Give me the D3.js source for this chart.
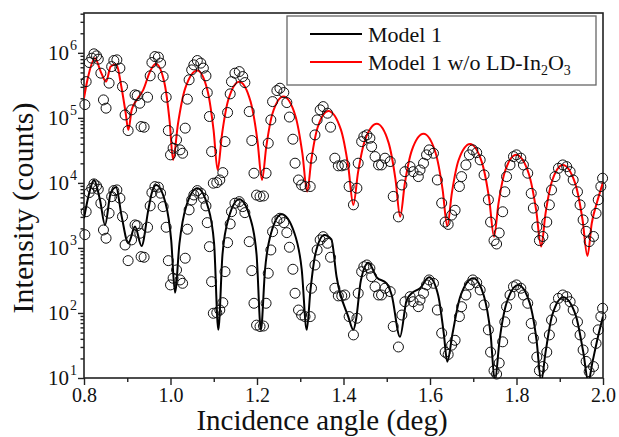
<!DOCTYPE html>
<html>
<head>
<meta charset="utf-8">
<script src="https://cdn.jsdelivr.net/npm/d3@7"></script>
<style>
  body { margin: 0; background: #fff; }
  svg text { font-family: "Liberation Serif", "DejaVu Serif", "Times New Roman", Times, serif !important; }
</style>
</head>
<body>
<svg id="chart" width="619" height="437"></svg>
<script>
// measured reflectivity (open circles), incidence angle in deg
const dataAngles = [
  0.802, 0.805, 0.812, 0.818, 0.823, 0.829, 0.833, 0.839, 0.845, 0.851,
  0.858, 0.864, 0.869, 0.876, 0.883, 0.889, 0.895, 0.902, 0.910, 0.918,
  0.923, 0.929, 0.932, 0.939, 0.947, 0.953, 0.957, 0.964, 0.972, 0.977,
  0.983, 0.990, 0.995, 1.000, 1.006, 1.014, 1.022, 1.028, 1.034, 1.039,
  1.043, 1.049, 1.054, 1.062, 1.070, 1.076, 1.082, 1.085, 1.090, 1.095,
  1.099, 1.107, 1.114, 1.121, 1.126, 1.132, 1.138, 1.141, 1.149, 1.159,
  1.167, 1.172, 1.182, 1.188, 1.193, 1.199, 1.207, 1.215, 1.221, 1.226,
  1.232, 1.236, 1.246, 1.253, 1.262, 1.269, 1.275, 1.283, 1.288, 1.296,
  1.303, 1.311, 1.323, 1.326, 1.334, 1.339, 1.346, 1.353, 1.363, 1.370,
  1.380, 1.388, 1.396, 1.403, 1.413, 1.423, 1.431, 1.434, 1.442, 1.447,
  1.454, 1.461, 1.465, 1.473, 1.481, 1.488, 1.496, 1.508, 1.515, 1.527,
  1.535, 1.542, 1.554, 1.561, 1.573, 1.577, 1.585, 1.592, 1.598, 1.608,
  1.617, 1.627, 1.635, 1.642, 1.650, 1.658, 1.668, 1.673, 1.683, 1.691,
  1.699, 1.708, 1.716, 1.725, 1.735, 1.740, 1.748, 1.754, 1.760, 1.768,
  1.773, 1.777, 1.785, 1.793, 1.800, 1.810, 1.816, 1.826, 1.834, 1.839,
  1.847, 1.853, 1.861, 1.870, 1.876, 1.881, 1.889, 1.897, 1.907, 1.916,
  1.924, 1.931, 1.941, 1.947, 1.954, 1.961, 1.968, 1.978, 1.984, 1.989,
  1.995, 1.999
];

// lower copy of the measurement (fitted with Model 1)
const dataLow = [
  1600, 3610, 7100, 8280, 9660, 8990, 8000, 4870, 1890, 1410,
  3420, 6150, 7620, 7800, 5820, 3030, 1110, 638, 1330, 2260,
  2200, 1680, 735, 719, 2080, 4430, 7100, 8770, 8590, 6950,
  4320, 2080, 638, 270, 342, 459, 322, 286, 695, 1940,
  3850, 5470, 6530, 7620, 6950, 5820, 4430, 2450, 1047, 303,
  99, 101, 111, 144, 432, 1207, 2340, 3610, 4870, 5150,
  4320, 3490, 1250, 448, 141, 65, 62, 63, 141, 408,
  931, 1780, 2630, 2860, 2450, 1720, 1025, 470, 201, 111,
  93, 88, 88, 240, 547, 931, 1330, 1490, 1180, 719,
  240, 183, 183, 189, 88, 46, 83, 201, 432, 515,
  547, 487, 362, 254, 189, 189, 240, 213, 62, 30,
  93, 149, 178, 149, 125, 158, 201, 270, 322, 286,
  111, 49, 25, 23, 32, 38, 88, 125, 189, 270,
  322, 292, 226, 133, 55, 25, 13, 11.5, 17, 36,
  73, 125, 189, 254, 270, 240, 189, 141, 69, 41,
  21, 13, 15, 25, 46, 78, 125, 168, 189, 178,
  149, 111, 73, 46, 27, 18, 12.5, 15, 34, 55,
  88, 118
];

// upper copy of the measurement (shown with the red curve)
const dataHigh = [
  1.6e5, 3.61e5, 7.1e5, 8.28e5, 9.66e5, 8.99e5, 8.0e5, 4.87e5, 1.89e5, 1.41e5,
  3.42e5, 6.15e5, 7.62e5, 7.8e5, 5.82e5, 3.03e5, 1.11e5, 6.38e4, 1.33e5, 2.26e5,
  2.2e5, 1.68e5, 7.35e4, 7.19e4, 2.08e5, 4.43e5, 7.1e5, 8.77e5, 8.59e5, 6.95e5,
  4.32e5, 2.08e5, 6.38e4, 2.7e4, 3.42e4, 4.59e4, 3.22e4, 2.86e4, 6.95e4, 1.94e5,
  3.85e5, 5.47e5, 6.53e5, 7.62e5, 6.95e5, 5.82e5, 4.43e5, 2.45e5, 1.05e5, 3.03e4,
  9.9e3, 1.01e4, 1.11e4, 1.44e4, 4.32e4, 1.21e5, 2.34e5, 3.61e5, 4.87e5, 5.15e5,
  4.32e5, 3.49e5, 1.25e5, 4.48e4, 1.41e4, 6.5e3, 6.2e3, 6.3e3, 1.41e4, 4.08e4,
  9.31e4, 1.78e5, 2.63e5, 2.86e5, 2.45e5, 1.72e5, 1.03e5, 4.7e4, 2.01e4, 1.11e4,
  9.3e3, 8.8e3, 8.8e3, 2.4e4, 5.47e4, 9.31e4, 1.33e5, 1.49e5, 1.18e5, 7.19e4,
  2.4e4, 1.83e4, 1.83e4, 1.89e4, 8.8e3, 4.6e3, 8.3e3, 2.01e4, 4.32e4, 5.15e4,
  5.47e4, 4.87e4, 3.62e4, 2.54e4, 1.89e4, 1.89e4, 2.4e4, 2.13e4, 6.2e3, 3.0e3,
  9.3e3, 1.49e4, 1.78e4, 1.49e4, 1.25e4, 1.58e4, 2.01e4, 2.7e4, 3.22e4, 2.86e4,
  1.11e4, 4.9e3, 2.5e3, 2.3e3, 3.2e3, 3.8e3, 8.8e3, 1.25e4, 1.89e4, 2.7e4,
  3.22e4, 2.92e4, 2.26e4, 1.33e4, 5.5e3, 2.5e3, 1.3e3, 1.15e3, 1.7e3, 3.6e3,
  7.3e3, 1.25e4, 1.89e4, 2.54e4, 2.7e4, 2.4e4, 1.89e4, 1.41e4, 6.9e3, 4.1e3,
  2.1e3, 1.3e3, 1.5e3, 2.5e3, 4.6e3, 7.8e3, 1.25e4, 1.68e4, 1.89e4, 1.78e4,
  1.49e4, 1.11e4, 7.3e3, 4.6e3, 2.7e3, 1.8e3, 1.25e3, 1.5e3, 3.4e3, 5.5e3,
  8.8e3, 1.18e4
];

// Model 1 (black line)
const model1Angles = [
  0.800, 0.810, 0.823, 0.837, 0.8486, 0.8617, 0.874, 0.8872, 0.9025, 0.918,
  0.933, 0.9487, 0.9565, 0.9665, 0.9885, 1.0016, 1.0104, 1.0207, 1.0362, 1.062,
  1.0863, 1.1008, 1.1105, 1.1202, 1.1348, 1.159, 1.184, 1.199, 1.209, 1.2186,
  1.233, 1.257, 1.286, 1.3034, 1.315, 1.3236, 1.3354, 1.3557, 1.372, 1.384,
  1.411, 1.4227, 1.4296, 1.440, 1.4574, 1.4767, 1.4996, 1.5114, 1.5306, 1.546,
  1.5577, 1.577, 1.598, 1.619, 1.6316, 1.640, 1.652, 1.670, 1.700, 1.725,
  1.740, 1.750, 1.7608, 1.777, 1.804, 1.8305, 1.8464, 1.857, 1.8672, 1.8825,
  1.908, 1.937, 1.9544, 1.966, 1.976, 1.988, 2.000
];
const model1Counts = [
  2860, 6150, 11100, 5470, 2260, 6950, 8590, 3030, 1180, 2130,
  1070, 3850, 6950, 9310, 4890, 1315, 205, 1170, 4345, 8280,
  4345, 1170, 55, 792, 2940, 5610, 2940, 792, 55, 466,
  1730, 3300, 1730, 466, 55, 224, 832, 1585, 1350, 361,
  88, 55, 84, 312, 594, 354, 286, 189, 43, 158,
  201, 240, 354, 186, 50, 17.8, 48, 179, 342, 179,
  48, 8.9, 38, 142, 270, 142, 38, 8.9, 25, 92,
  175, 92, 25, 8.9, 18, 42, 88
];

// Model 1 without the low-density In2O3 layer (red line)
const modelNoLDAngles = [
  0.800, 0.808, 0.8254, 0.8386, 0.851, 0.8617, 0.874, 0.887, 0.8964, 0.9025,
  0.9103, 0.922, 0.937, 0.9526, 0.966, 0.986, 0.998, 1.006, 1.0172, 1.034,
  1.062, 1.0855, 1.0996, 1.109, 1.119, 1.134, 1.159, 1.185, 1.201, 1.2116,
  1.2215, 1.236, 1.261, 1.2885, 1.305, 1.316, 1.3258, 1.3405, 1.365, 1.394,
  1.4112, 1.4227, 1.4336, 1.4498, 1.477, 1.504, 1.5202, 1.531, 1.5418, 1.558,
  1.585, 1.6125, 1.629, 1.640, 1.6505, 1.666, 1.6925, 1.720, 1.737, 1.748,
  1.7582, 1.7735, 1.799, 1.828, 1.8454, 1.857, 1.867, 1.882, 1.907, 1.9355,
  1.9526, 1.964, 1.974, 1.987, 2.000
];
const modelNoLDCounts = [
  2.01e5, 3.85e5, 8.28e5, 5.15e5, 3.61e5, 6.15e5, 6.70e5, 2.86e5, 1.18e5, 6.53e4,
  1.33e5, 1.89e5, 2.70e5, 5.15e5, 6.78e5, 3.44e5, 8.81e4, 2.26e4, 8.02e4, 2.84e5,
  5.35e5, 2.64e5, 6.47e4, 1.58e4, 5.53e4, 1.93e5, 3.61e5, 1.80e5, 4.48e4, 1.11e4,
  3.62e4, 1.18e5, 2.13e5, 1.09e5, 2.82e4, 7350, 2.31e4, 7.24e4, 1.28e5, 6.59e4,
  1.74e4, 4590, 1.45e4, 4.56e4, 8.09e4, 4.20e4, 1.13e4, 3030, 9790, 3.16e4,
  5.68e4, 2.96e4, 8020, 2180, 6970, 2.23e4, 3.98e4, 2.07e4, 5550, 1490,
  4750, 1.51e4, 2.70e4, 1.41e4, 3840, 1050, 3330, 1.06e4, 1.89e4, 9930,
  2740, 753, 2400, 5250, 1.02e4
];

const xMajor = [0.8, 1.0, 1.2, 1.4, 1.6, 1.8, 2.0];
const xMinor = [0.9, 1.1, 1.3, 1.5, 1.7, 1.9];
const yExponents = [1, 2, 3, 4, 5, 6];

const legendLabels = ["Model 1", "Model 1 w/o LD-In"];

const serif = '"Liberation Serif", "DejaVu Serif", "Times New Roman", Times, serif';

const svg = d3.select("#chart").attr("font-family", serif);
const plot = { left: 84, right: 603, top: 13, bottom: 378 };

const x = d3.scaleLinear().domain([0.8, 2.0]).range([plot.left, plot.right]);
const y = d3.scaleLog().domain([10, 4.1e6]).range([plot.bottom, plot.top]);

svg.append("defs").append("clipPath").attr("id", "plot-clip")
  .append("rect")
  .attr("x", plot.left).attr("y", plot.top)
  .attr("width", plot.right - plot.left).attr("height", plot.bottom - plot.top);

// --- axes ---
const axisColor = "#222";

const styleAxis = g => {
  g.attr("font-family", serif);
  g.select(".domain").remove();
  g.selectAll(".tick line").attr("stroke", axisColor).attr("stroke-width", 1.4);
  g.selectAll(".tick text")
    .style("font-family", serif)
    .attr("font-size", 20)
    .attr("fill", "#111");
};

svg.append("g")
  .attr("transform", `translate(0,${plot.bottom})`)
  .call(d3.axisBottom(x).tickValues(xMajor).tickSize(7).tickPadding(3)
    .tickFormat(d3.format(".1f")))
  .call(styleAxis);

svg.append("g")
  .attr("transform", `translate(0,${plot.bottom})`)
  .call(d3.axisBottom(x).tickValues(xMinor).tickSize(4).tickFormat(""))
  .call(styleAxis);

// log minor ticks: 2..9 inside every decade shown
const yMinor = [];
for (let e = 1; e <= 6; e++) {
  for (let m = 2; m <= 9; m++) {
    const v = m * Math.pow(10, e);
    if (v <= y.domain()[1]) yMinor.push(v);
  }
}
const yMajor = yExponents.map(e => Math.pow(10, e));

svg.append("g")
  .attr("transform", `translate(${plot.left},0)`)
  .call(d3.axisLeft(y).tickValues(yMajor).tickSize(6).tickFormat(""))
  .call(styleAxis);

svg.append("g")
  .attr("transform", `translate(${plot.left},0)`)
  .call(d3.axisLeft(y).tickValues(yMinor).tickSize(3.5).tickFormat(""))
  .call(styleAxis);

// 10^n labels with superscripts
const yLabels = svg.append("g").attr("fill", "#111");
yExponents.forEach(e => {
  const ty = y(Math.pow(10, e));
  yLabels.append("text")
    .attr("x", 69).attr("y", ty + 7)
    .attr("text-anchor", "end")
    .attr("font-size", 21)
    .text("10");
  yLabels.append("text")
    .attr("x", 70).attr("y", ty - 3)
    .attr("font-size", 14)
    .text(e);
});

// frame
svg.append("rect")
  .attr("x", plot.left).attr("y", plot.top)
  .attr("width", plot.right - plot.left).attr("height", plot.bottom - plot.top)
  .attr("fill", "none")
  .attr("stroke", axisColor)
  .attr("stroke-width", 1.6);

// axis titles
svg.append("text")
  .attr("x", 322).attr("y", 430)
  .attr("text-anchor", "middle")
  .attr("font-size", 29)
  .attr("fill", "#111")
  .text("Incidence angle (deg)");

svg.append("text")
  .attr("transform", "translate(33,208) rotate(-90)")
  .attr("text-anchor", "middle")
  .attr("font-size", 30)
  .attr("fill", "#111")
  .text("Intensity (counts)");

// --- curves ---
const line = d3.line()
  .x(d => x(d[0]))
  .y(d => y(d[1]))
  .curve(d3.curveMonotoneX);

const curves = svg.append("g").attr("clip-path", "url(#plot-clip)");

curves.append("path")
  .datum(d3.zip(model1Angles, model1Counts))
  .attr("d", line)
  .attr("fill", "none")
  .attr("stroke", "#000")
  .attr("stroke-width", 2);

curves.append("path")
  .datum(d3.zip(modelNoLDAngles, modelNoLDCounts))
  .attr("d", line)
  .attr("fill", "none")
  .attr("stroke", "#f00")
  .attr("stroke-width", 2);

// --- measured points ---
const points = svg.append("g")
  .attr("fill", "none")
  .attr("stroke", "#111")
  .attr("stroke-width", 1);

[dataHigh, dataLow].forEach(series => {
  points.append("g")
    .selectAll("circle")
    .data(d3.zip(dataAngles, series))
    .join("circle")
    .attr("cx", d => x(d[0]))
    .attr("cy", d => y(d[1]))
    .attr("r", 5);
});

// --- legend ---
const legend = svg.append("g");
legend.append("rect")
  .attr("x", 287).attr("y", 16)
  .attr("width", 309).attr("height", 69)
  .attr("fill", "#fff")
  .attr("stroke", "#666")
  .attr("stroke-width", 1.3);

const legendColors = ["#000", "#f00"];
legendLabels.forEach((label, i) => {
  const ly = 34 + i * 28;
  legend.append("line")
    .attr("x1", 310).attr("x2", 362)
    .attr("y1", ly).attr("y2", ly)
    .attr("stroke", legendColors[i])
    .attr("stroke-width", 2);
  const t = legend.append("text")
    .attr("x", 368).attr("y", ly + 8)
    .attr("font-size", 22)
    .attr("fill", "#111")
    .text(label);
  if (i === 1) {
    t.append("tspan").attr("font-size", 14).attr("dy", 5).text("2");
    t.append("tspan").attr("font-size", 22).attr("dy", -5).text("O");
    t.append("tspan").attr("font-size", 14).attr("dy", 5).text("3");
  }
});
</script>
</body>
</html>
